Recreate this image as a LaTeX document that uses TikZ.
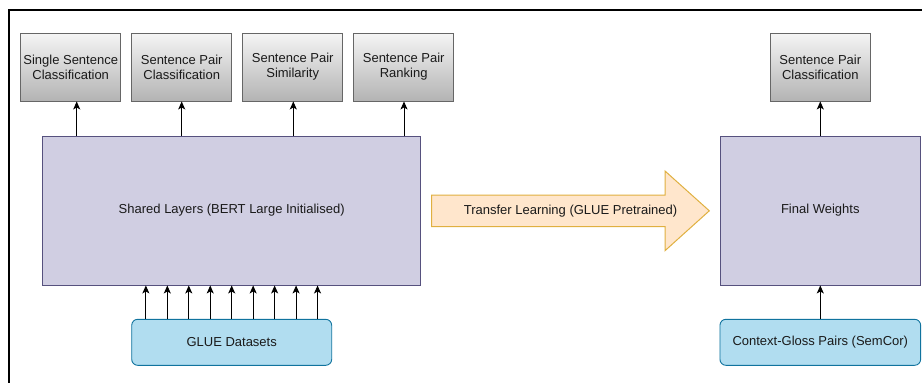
\documentclass[tikz,border=0pt]{standalone}
\usepackage{fontspec}
\setmainfont{Liberation Sans}
\usetikzlibrary{arrows.meta,calc}
\definecolor{gtop}{HTML}{F5F5F5}
\definecolor{gbot}{HTML}{B3B3B3}
\definecolor{gline}{HTML}{666666}
\definecolor{pfill}{HTML}{D0CEE2}
\definecolor{pline}{HTML}{56517E}
\definecolor{bfill}{HTML}{B1DDF0}
\definecolor{bline}{HTML}{10739E}
\definecolor{ofill}{HTML}{FFE6CC}
\definecolor{oline}{HTML}{E0B040}
\definecolor{txt}{HTML}{1A1A1A}
\tikzset{
  task/.style={draw=gline, line width=0.9pt, top color=gtop, bottom color=gbot,
    minimum width=100pt, minimum height=68pt, align=center, inner sep=0pt,
    font=\fontsize{13}{15}\selectfont, text=txt},
  layer/.style={draw=pline, line width=0.9pt, fill=pfill, inner sep=0pt,
    font=\fontsize{13}{15}\selectfont, text=txt},
  data/.style={draw=bline, line width=0.9pt, fill=bfill, rounded corners=6pt,
    minimum width=200pt, minimum height=46pt, inner sep=0pt,
    font=\fontsize{13}{15}\selectfont, text=txt},
  arr/.style={line width=1pt, -{Stealth[length=8pt,width=7pt,inset=2pt]}},
}
\begin{document}
\begin{tikzpicture}[x=1pt,y=-1pt]
\useasboundingbox (0,0) rectangle (922,383);
% frame
\draw[line width=1.2pt] (922,10) -- (9,10) -- (9,383);
% top task boxes
\node[task] (t1) at (70.7,67) {Single Sentence\\Classification};
\node[task] (t2) at (181.7,67) {Sentence Pair\\Classification};
\node[task] (t3) at (292.7,67) {Sentence Pair\\Similarity};
\node[task] (t4) at (403.7,67) {Sentence Pair\\Ranking};
\node[task] (t5) at (820.3,67) {Sentence Pair\\Classification};
% shared layers
\node[layer, minimum width=378pt, minimum height=149pt] (sh) at (231.7,210.5) {Shared Layers (BERT Large Initialised)};
\node[layer, minimum width=200.7pt, minimum height=149pt] (fw) at (820.3,210.5) {Final Weights};
% data
\node[data] (glue) at (231.7,342.3) {GLUE Datasets};
\node[data, minimum width=200.7pt] (cg) at (820.3,342.3) {Context-Gloss Pairs (SemCor)};
% arrows to tasks
\draw[arr] ([xshift=6pt]t1.south |- sh.north) -- ([xshift=6pt]t1.south);
\draw[arr] (t2.south |- sh.north) -- (t2.south);
\draw[arr] ([xshift=0.6pt]t3.south |- sh.north) -- ([xshift=0.6pt]t3.south);
\draw[arr] ([xshift=0.3pt]t4.south |- sh.north) -- ([xshift=0.3pt]t4.south);
\draw[arr] (fw.north) -- (t5.south);
% glue arrows
\foreach \i in {-4,...,4}{
  \draw[arr] ([xshift=\i*21.46pt]glue.north) -- ([xshift=\i*21.46pt]glue.north |- sh.south);
}
\draw[arr] (cg.north) -- (fw.south);
% transfer arrow
\draw[draw=oline, line width=1pt, fill=ofill, line join=miter]
  (431.7,195) -- (665,195) -- (665,171) -- (709.3,210.8) -- (665,250.7) -- (665,226.7) -- (431.7,226.7) -- cycle;
\node[font=\fontsize{13}{15}\selectfont, text=txt] (tl) at (570.5,210.8) {Transfer Learning (GLUE Pretrained)};
\end{tikzpicture}
\end{document}
